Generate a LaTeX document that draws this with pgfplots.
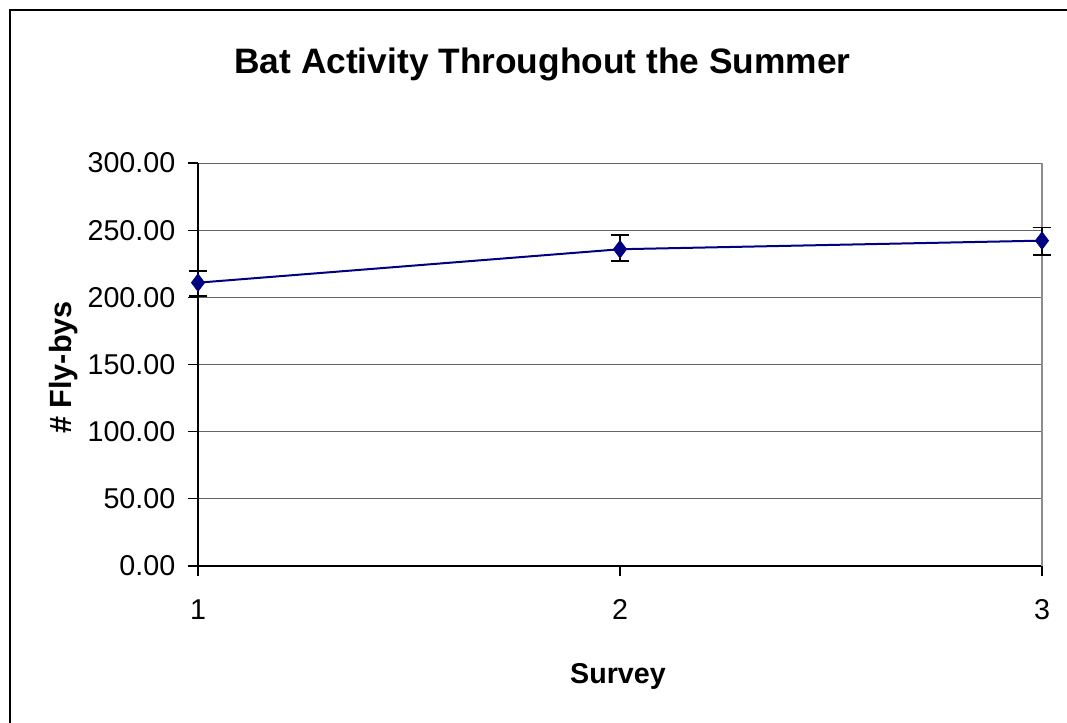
\documentclass[border=0pt]{standalone}
\usepackage{fontspec}
\setmainfont{Liberation Sans}
\usepackage{pgfplots}
\pgfplotsset{compat=1.18}
\definecolor{navy}{RGB}{0,0,128}
\definecolor{gridgray}{RGB}{100,100,100}
\definecolor{bordergray}{RGB}{140,140,140}
\begin{document}
\begin{tikzpicture}
\useasboundingbox (-148.5pt,-117.75pt) rectangle (651.75pt,424.5pt);
\draw[line width=1pt] (-141pt,-117.75pt) -- (-141pt,417pt) -- (651.75pt,417pt);
\begin{axis}[
  at={(0pt,0pt)}, anchor=south west,
  scale only axis, width=633pt, height=302.25pt,
  xmin=1, xmax=3, ymin=0, ymax=300,
  xtick={1,2,3}, ytick={0,50,...,300},
  axis x line*=bottom, axis y line*=left,
  ymajorgrids, grid style={gridgray, line width=0.7pt},
  tick align=outside, major tick length=7.5pt,
  tick style={black, line width=0.8pt},
  axis line style={black, line width=1pt},
  tick label style={font=\fontsize{21.5}{25}\selectfont},
  /pgf/number format/assume math mode=true,
  yticklabel={\pgfmathprintnumber[fixed,fixed zerofill,precision=2]{\tick}},
  xticklabel={\pgfmathprintnumber[fixed,precision=0]{\tick}},
  yticklabel style={xshift=-6pt},
  xticklabel style={yshift=-14pt},
  clip=false,
]
\draw[bordergray, line width=1.2pt] (rel axis cs:1,0) -- (rel axis cs:1,1);
\addplot[navy, line width=1.5pt, mark=diamond*, mark size=6.6pt,
  mark options={solid, fill=navy, line width=0.5pt},
  error bars/.cd, y dir=both, y explicit,
  error bar style={black, line width=1.3pt},
  error mark options={black, mark size=7pt, line width=1.3pt, rotate=90}]
  coordinates {
  (1,210.9) += (0,8.7) -= (0,9.9)
  (2,235.8) += (0,10.6) -= (0,8.5)
  (3,242.2) += (0,9.7) -= (0,10.9)
  };
\end{axis}
\node[font=\bfseries\fontsize{26.5}{30}\selectfont, anchor=base] at (258.4pt,369pt) {Bat Activity Throughout the Summer};
\node[font=\bfseries\fontsize{23}{27}\selectfont, anchor=base, rotate=90] at (-94.5pt,148.9pt) {\# Fly-bys};
\node[font=\bfseries\fontsize{21.5}{25}\selectfont, anchor=base] at (315pt,-88.5pt) {Survey};
\end{tikzpicture}
\end{document}
